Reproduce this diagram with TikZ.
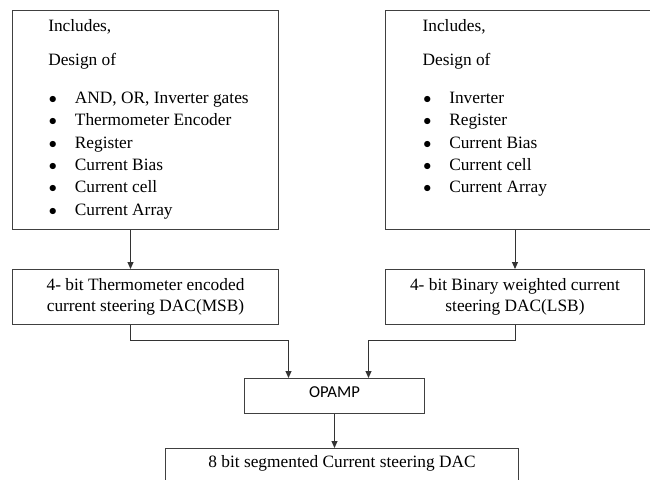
\documentclass[tikz,border=0pt]{standalone}
\usepackage{fontspec}
\setmainfont{Liberation Serif}
\newfontfamily\opfont{Carlito}
\usetikzlibrary{positioning,arrows.meta}
\newcommand{\itm}[1]{\makebox[20pt][l]{\hspace{0.5pt}$\bullet$}#1}

\begin{document}
\begin{tikzpicture}[x=0.75pt, y=-0.75pt,
  box/.style={draw=black!75, line width=0.75pt, inner sep=0pt, align=center, font=\fontsize{13}{15.75}\selectfont},
  big/.style={box, minimum width=199.5pt, minimum height=164.25pt},
  list/.style={inner sep=0pt, align=left, font=\fontsize{13}{16.8}\selectfont},
  arr/.style={-{Triangle[length=5.25pt, width=4.5pt]}, draw=black!80, line width=0.75pt}]
\useasboundingbox (0,0) rectangle (650,479);
\node[big, anchor=north west] (incl) at (12,10) {};
\node[big, minimum width=200.25pt, right=79.5pt of incl] (incr) {};
\node[list, below right=6.75pt and 27pt of incl.north west] (listl) {Includes,\\[8.7pt]Design of\\[11.7pt]\itm{AND, OR, Inverter gates}\\\itm{Thermometer Encoder}\\\itm{Register}\\\itm{Current Bias}\\\itm{Current cell}\\\itm{Current Array}};
\node[list, below right=6.75pt and 28pt of incr.north west] (listr) {Includes,\\[8.7pt]Design of\\[11.7pt]\itm{Inverter}\\\itm{Register}\\\itm{Current Bias}\\\itm{Current cell}\\\itm{Current Array}};
\node[box, minimum width=199.5pt, minimum height=41.25pt, below=29.25pt of incl] (msb) {4- bit Thermometer encoded\\current steering DAC(MSB)};
\node[box, minimum width=194.25pt, minimum height=41.25pt, below right=29.25pt and 0pt of incr.south west] (lsb) {4- bit Binary weighted current\\steering DAC(LSB)};
\node[box, font=\opfont\fontsize{12.5}{15}\selectfont, text depth=6pt, minimum width=135pt, minimum height=26.25pt, below right=39.75pt and 174pt of msb.south west] (opamp) {OPAMP};
\node[box, minimum width=264.75pt, text height=14.25pt, text depth=28pt, below right=25.5pt and -59.25pt of opamp.south west] (dac) {8 bit segmented Current steering DAC};
\draw[arr] ([xshift=-11.25pt]incl.south) -- ([xshift=-11.25pt]msb.north);
\draw[arr] (incr.south -| lsb.north) -- (lsb.north);
\draw[arr] ([xshift=-11.25pt]msb.south) -- ++(0,15) -| ([xshift=-34.5pt]opamp.north);
\draw[arr] (lsb.south) -- ++(0,15) -| ([xshift=25.5pt]opamp.north);
\draw[arr] (opamp.south) -- (opamp.south |- dac.north);
\end{tikzpicture}
\end{document}
